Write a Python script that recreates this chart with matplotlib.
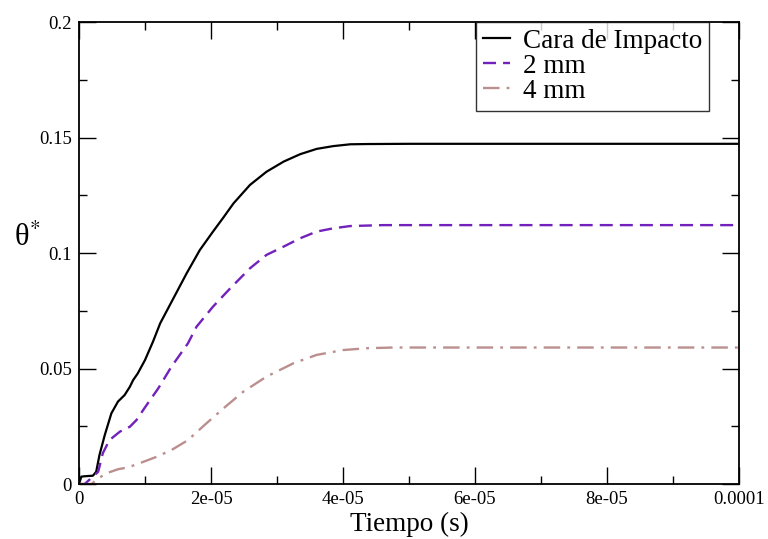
import numpy as np
import matplotlib
matplotlib.use("Agg")
import matplotlib.pyplot as plt
from matplotlib.ticker import MultipleLocator

plt.rcParams['font.family'] = ['Liberation Serif', 'DejaVu Serif']
plt.rcParams['mathtext.fontset'] = 'stix'

# tiempo en microsegundos
t_cara = [0, 0.35, 1.0, 2.1, 2.6, 3.1, 3.9, 4.9, 5.9, 6.9, 7.7, 8.2, 8.9, 10.0, 11.2,
          12.3, 14.3, 16.3, 18.3, 20.3, 21.9, 23.4, 25.9, 28.4, 31.0, 33.5, 36.0, 38.5,
          41.1, 43.6, 50.0, 100.0]
th_cara = [0, 0.0032, 0.0034, 0.0036, 0.0053, 0.0126, 0.0212, 0.0306, 0.0357, 0.0385,
           0.0421, 0.0450, 0.0479, 0.0537, 0.0616, 0.0696, 0.0804, 0.0912, 0.1013, 0.1093,
           0.1155, 0.1215, 0.1295, 0.1352, 0.1396, 0.1428, 0.1451, 0.1463, 0.1471, 0.1472,
           0.1473, 0.1473]

t_2mm = [0, 0.85, 2.1, 2.9, 3.6, 4.6, 6.2, 7.7, 8.7, 9.9, 12.0, 14.0, 16.5, 17.8, 20.3,
         22.9, 25.9, 28.4, 31.0, 33.5, 36.0, 38.5, 41.1, 46.1, 50.0, 100.0]
th_2mm = [0, 0.0, 0.0032, 0.0053, 0.0133, 0.0190, 0.0227, 0.0248, 0.0277, 0.0328, 0.0414,
          0.0508, 0.0609, 0.0681, 0.0768, 0.0847, 0.0934, 0.0992, 0.1028, 0.1064, 0.1093,
          0.1107, 0.1117, 0.1121, 0.1121, 0.1121]

t_4mm = [0, 1.9, 2.9, 4.4, 5.9, 7.4, 8.9, 11.5, 14.0, 16.5, 19.0, 21.9, 24.9, 28.4, 32.5,
         36.0, 40.0, 43.6, 47.6, 100.0]
th_4mm = [0, 0.0, 0.0025, 0.0049, 0.0064, 0.0072, 0.0087, 0.0115, 0.0147, 0.0190, 0.0255,
          0.0328, 0.0400, 0.0465, 0.0523, 0.0559, 0.0580, 0.0588, 0.0591, 0.0591]

xticks = [0, 2e-5, 4e-5, 6e-5, 8e-5, 1e-4]
xticklabels = ['0', '2e-05', '4e-05', '6e-05', '8e-05', '0.0001']
yticks = [0, 0.05, 0.1, 0.15, 0.2]
yticklabels = ['0', '0.05', '0.1', '0.15', '0.2']

fig = plt.figure(figsize=(7.68, 5.39), dpi=100)
ax = fig.add_axes([0.1029, 0.102, 0.8594, 0.857])

us = 1e-6
ax.plot(np.array(t_cara) * us, th_cara, color='black', lw=1.6, label='Cara de Impacto')
ax.plot(np.array(t_2mm) * us, th_2mm, color='#7221BC', lw=1.7, ls=(0, (5.5, 3)), label='2 mm')
ax.plot(np.array(t_4mm) * us, th_4mm, color='#BC8F8F', lw=1.7, ls=(0, (7, 3, 1.2, 3)), label='4 mm')

ax.set_xlim(0, 1e-4)
ax.set_ylim(0, 0.2)
ax.set_xticks(xticks)
ax.set_xticklabels(xticklabels)
ax.set_yticks(yticks)
ax.set_yticklabels(yticklabels)
ax.xaxis.set_minor_locator(MultipleLocator(1e-5))
ax.yaxis.set_minor_locator(MultipleLocator(0.025))
ax.tick_params(which='both', direction='in', top=True, right=True, labelsize=13.5, width=1.0)
ax.tick_params(which='major', length=12, pad=5)
ax.tick_params(which='minor', length=6)
for s in ax.spines.values():
    s.set_linewidth(1.3)

ax.set_xlabel('Tiempo (s)', fontsize=19.5, labelpad=3)
ax.set_ylabel('θ$^{*}$', fontsize=22, rotation=0)
ax.yaxis.set_label_coords(-0.078, 0.5)

leg = ax.legend(loc='upper left', bbox_to_anchor=(0.6015, 1.0), borderaxespad=0,
                fontsize=19.5, frameon=True, fancybox=False, handlelength=1.0,
                handletextpad=0.5, labelspacing=0.0, borderpad=0.25)
leg.get_frame().set_edgecolor('black')
leg.get_frame().set_linewidth(1.0)

fig.savefig('out.png', dpi=100)
